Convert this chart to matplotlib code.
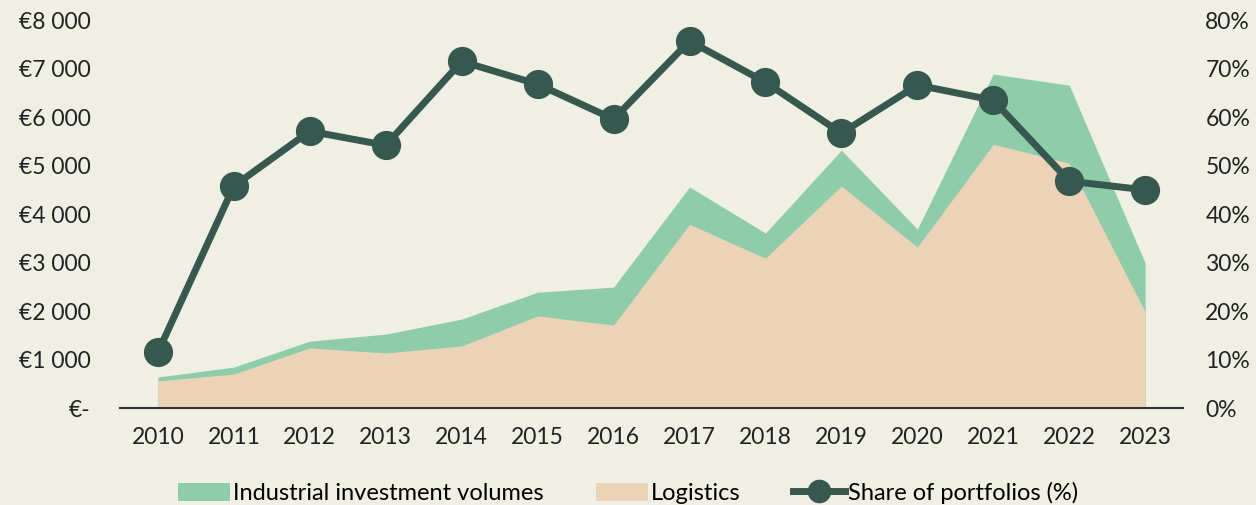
import matplotlib.pyplot as plt
from matplotlib.ticker import FuncFormatter
from matplotlib.patches import Patch
from matplotlib.lines import Line2D

years = [2010, 2011, 2012, 2013, 2014, 2015, 2016, 2017, 2018, 2019, 2020, 2021, 2022, 2023]
industrial = [640, 845, 1380, 1525, 1835, 2390, 2495, 4560, 3610, 5320, 3690, 6890, 6660, 2990]
logistics = [560, 700, 1240, 1135, 1280, 1900, 1710, 3790, 3090, 4580, 3320, 5440, 5050, 1980]
share = [11.5, 45.8, 57.1, 54.2, 71.5, 66.8, 59.6, 75.7, 67.2, 56.7, 66.6, 63.5, 46.8, 45.0]

bg = '#f0efe4'
green = '#8fcdaa'
peach = '#ecd3b8'
dark = '#37584f'

plt.rcParams['font.family'] = ['Lato', 'DejaVu Sans']
plt.rcParams['font.size'] = 16.5

fig = plt.figure(figsize=(12.56, 5.05), dpi=100, facecolor=bg)
ax = fig.add_axes([0.0955, 0.192, 0.8465, 0.768])
ax.set_facecolor(bg)

ax.fill_between(years, industrial, color=green, linewidth=0)
ax.fill_between(years, logistics, color=peach, linewidth=0)
ax.set_xlim(2009.5, 2023.5)
ax.set_ylim(0, 8000)
ax.set_xticks(years)
ax.set_yticks(range(0, 8001, 1000))

def euro(v, pos):
    if v == 0:
        return '€-'
    return '€' + f'{int(v):,}'.replace(',', ' ')

ax.yaxis.set_major_formatter(FuncFormatter(euro))
ax.tick_params(axis='y', length=0, pad=21, colors='#222222')
ax.tick_params(axis='x', length=0, pad=14, colors='#222222')
for s in ['top', 'right', 'left']:
    ax.spines[s].set_visible(False)
ax.spines['bottom'].set_color('#333333')
ax.spines['bottom'].set_linewidth(1.5)

ax2 = ax.twinx()
ax2.plot(years, share, color=dark, linewidth=5, marker='o', markersize=20, zorder=5)
ax2.set_ylim(0, 80)
ax2.set_yticks(range(0, 81, 10))
ax2.yaxis.set_major_formatter(FuncFormatter(lambda v, p: f'{int(v)}%'))
ax2.tick_params(axis='y', length=0, pad=16, colors='#222222')
for s in ax2.spines.values():
    s.set_visible(False)

handles = [
    Patch(facecolor=green, edgecolor='none'),
    Patch(facecolor=peach, edgecolor='none'),
    Line2D([0], [0], color=dark, linewidth=5, marker='o', markersize=16),
]
labels = ['Industrial investment volumes', 'Logistics', 'Share of portfolios (%)']
fig.legend(handles, labels, loc='lower center', bbox_to_anchor=(0.5, -0.04), ncol=3,
           frameon=False, handlelength=2.2, handleheight=0.8, handletextpad=0.15,
           columnspacing=2.2, fontsize=17)

fig.savefig('out.png', dpi=100, facecolor=bg)
